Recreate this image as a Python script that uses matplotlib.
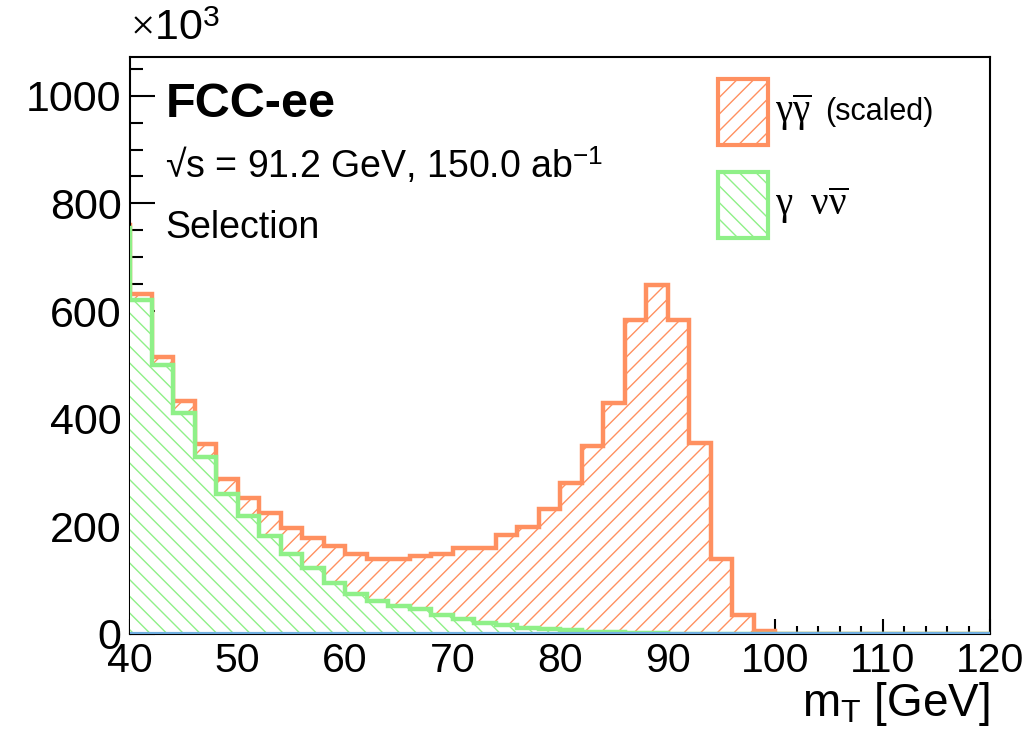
import numpy as np
import matplotlib
matplotlib.use("Agg")
import matplotlib.pyplot as plt
from matplotlib.patches import Rectangle

plt.rcParams['font.family'] = ['Liberation Sans', 'DejaVu Sans']
plt.rcParams['mathtext.fontset'] = 'custom'
plt.rcParams['mathtext.rm'] = 'Liberation Serif'
plt.rcParams['mathtext.it'] = 'Liberation Serif:italic'
plt.rcParams['mathtext.bf'] = 'Liberation Serif:bold'
plt.rcParams['mathtext.sf'] = 'Liberation Sans'
plt.rcParams['hatch.linewidth'] = 1.0

# bin edges (GeV); first bin 38-40 lies just outside the visible range
bin_edges = np.arange(38, 122, 2)
# values in units of 10^3 events
gg_scaled = [760, 631, 515, 432, 353, 288, 253, 224, 196, 179, 163, 149, 140, 139, 145,
             149, 159, 160, 184, 199, 232, 281, 350, 430, 583, 648, 583, 355, 140, 35, 6,
             0, 0, 0, 0, 0, 0, 0, 0, 0, 0]
gnunu = [755, 620, 500, 410, 328, 261, 219, 182, 149, 123, 95, 75, 61, 52, 46,
         36, 27, 20, 16, 12, 10, 7, 4, 3, 2, 1, 0.5, 0.3, 0.2, 0.1, 0,
         0, 0, 0, 0, 0, 0, 0, 0, 0, 0]
signal = [0] * 41

orange = '#ff9060'
green = '#8ff088'
blue = '#70aee0'

fig = plt.figure(figsize=(10.36, 7.47), dpi=100)
ax = fig.add_axes([0.1255, 0.1513, 0.8301, 0.7724])


def draw_hist(vals, color, hatch, z):
    v = np.asarray(vals, dtype=float)
    vv = np.append(v, v[-1])
    ax.fill_between(bin_edges, 0, vv, step='post', facecolor='white',
                    edgecolor=color, hatch=hatch, linewidth=0, zorder=z)
    ax.stairs(v, bin_edges, color=color, linewidth=3.2, zorder=z + 0.5)


draw_hist(gg_scaled, orange, '//', 2)
draw_hist(gnunu, green, '\\\\', 3)
ax.stairs(signal, bin_edges, color=blue, linewidth=3.0, zorder=5)

ax.set_xlim(40, 120)
ax.set_ylim(0, 1072)

ax.set_xticks(np.arange(40, 121, 10))
ax.set_xticks(np.arange(40, 121, 2), minor=True)
ax.set_yticks(np.arange(0, 1001, 200))
ax.set_yticks(np.arange(0, 1051, 50), minor=True)
ax.tick_params(axis='both', which='both', direction='in', width=1.5,
               top=False, right=False)
ax.tick_params(axis='y', which='major', length=18, pad=6, labelsize=31)
ax.tick_params(axis='y', which='minor', length=9.5)
ax.tick_params(axis='x', which='major', length=11, pad=6, labelsize=29.5)
ax.tick_params(axis='x', which='minor', length=5.5)
for s in ax.spines.values():
    s.set_linewidth(1.5)

ax.set_xlabel(r'm$_{\mathsf{T}}$ [GeV]', fontsize=33, loc='right', labelpad=0)
fig.text(0.125, 0.935, r'$\times$10$^{\mathsf{3}}$', fontsize=31, ha='left', va='bottom')

ax.text(0.041, 0.896, 'FCC-ee', transform=ax.transAxes, fontsize=35,
        fontweight='bold', ha='left', va='baseline')
ax.text(0.041, 0.790, '\u221as = 91.2 GeV, 150.0 ab$^{\\mathsf{-1}}$', transform=ax.transAxes,
        fontsize=27, ha='left', va='baseline')
ax.text(0.041, 0.686, 'Selection', transform=ax.transAxes, fontsize=27,
        ha='left', va='baseline')

# legend
for (y0, col, hatch) in [(0.848, orange, '//'), (0.687, green, '\\\\')]:
    ax.add_patch(Rectangle((0.684, y0), 0.058, 0.113, transform=ax.transAxes,
                           facecolor='white', edgecolor=col, hatch=hatch,
                           linewidth=3, zorder=6, clip_on=False))
ax.text(0.750, 0.905, r'$\mathrm{\gamma}\overline{\mathrm{\gamma}}$', transform=ax.transAxes,
        fontsize=28, ha='left', va='center', zorder=7)
ax.text(0.808, 0.905, '(scaled)', transform=ax.transAxes, fontsize=22,
        ha='left', va='center', zorder=7)
ax.text(0.750, 0.744, r'$\mathrm{\gamma}\ \ \mathrm{\nu}\overline{\mathrm{\nu}}$',
        transform=ax.transAxes, fontsize=28,
        ha='left', va='center', zorder=7)

fig.savefig('out.png', dpi=100)
